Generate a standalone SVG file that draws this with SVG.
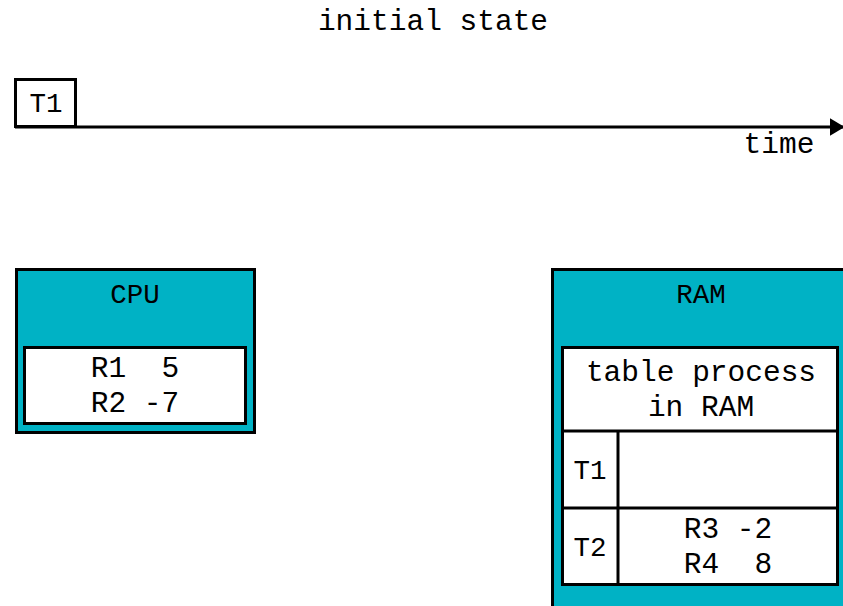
<svg xmlns="http://www.w3.org/2000/svg" width="843" height="606" viewBox="0 0 843 606">
<style>
text{font-family:"Liberation Mono","Courier New",monospace;font-size:29.5px;fill:#000;text-anchor:middle}
.s{font-size:27.5px}
.box{fill:#00B2C5;stroke:#000;stroke-width:3}
.w{fill:#fff;stroke:#000;stroke-width:3}
.ln{stroke:#000;stroke-width:3;fill:none}
</style>
<defs>
<marker id="ah" markerWidth="5" markerHeight="6" refX="4.5" refY="3" orient="auto" markerUnits="strokeWidth">
<path d="M0,0 L5,3 L0,6 z" fill="#000"/>
</marker>
</defs>
<text x="433" y="30">initial state</text>
<g id="connectors">
<line class="ln" x1="15" y1="127" x2="843" y2="127" marker-end="url(#ah)"/>
</g>
<text x="779" y="153">time</text>
<g id="t1">
<rect class="w" x="15.5" y="79.5" width="60" height="47"/>
<text class="s" x="46" y="112">T1</text>
</g>
<g id="cpu">
<rect class="box" x="16.5" y="269.5" width="238" height="163"/>
<text class="s" x="135" y="303">CPU</text>
<rect class="w" x="24.5" y="347.5" width="221" height="76"/>
<text x="135" y="377" xml:space="preserve">R1  5</text>
<text x="135" y="412" xml:space="preserve">R2 -7</text>
</g>
<g id="ram">
<rect class="box" x="552.5" y="269.5" width="300" height="350"/>
<text class="s" x="701" y="303">RAM</text>
<rect class="w" x="562.5" y="347.5" width="275" height="237"/>
<line class="ln" x1="562" y1="431" x2="838" y2="431"/>
<line class="ln" x1="562" y1="508" x2="838" y2="508"/>
<line class="ln" x1="618" y1="431" x2="618" y2="585"/>
<text x="701" y="381">table process</text>
<text x="701" y="416">in RAM</text>
<text class="s" x="590" y="479">T1</text>
<text class="s" x="590" y="556">T2</text>
<text x="728" y="538" xml:space="preserve">R3 -2</text>
<text x="728" y="573" xml:space="preserve">R4  8</text>
</g>
</svg>
